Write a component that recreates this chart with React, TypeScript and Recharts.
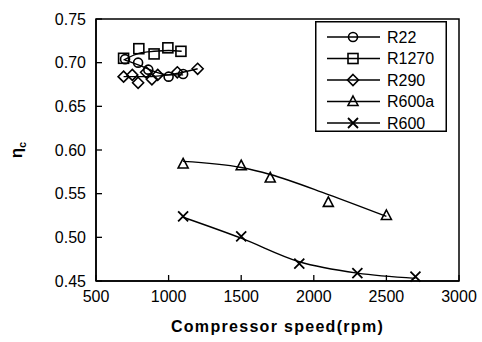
import React from "react";
import {
  ComposedChart, Line, Scatter, XAxis, YAxis, ReferenceArea, Label,
} from "recharts";

// measured points (speed rpm, isentropic efficiency)
const r22Speed = [700, 790, 860, 1000, 1100];
const r22Eta = [0.704, 0.7, 0.692, 0.684, 0.687];
const r1270Speed = [690, 795, 900, 995, 1085];
const r1270Eta = [0.705, 0.716, 0.71, 0.717, 0.713];
const r290Speed = [690, 750, 790, 845, 885, 925, 1060, 1200];
const r290Eta = [0.684, 0.686, 0.677, 0.689, 0.681, 0.686, 0.689, 0.693];
const r600aSpeed = [1100, 1500, 1700, 2100, 2500];
const r600aEta = [0.584, 0.582, 0.568, 0.54, 0.525];
const r600Speed = [1100, 1500, 1900, 2300, 2700];
const r600Eta = [0.524, 0.501, 0.47, 0.459, 0.455];

// fitted curves
const r22FitSpeed = [700, 800, 900, 1000, 1100];
const r22FitEta = [0.703, 0.697, 0.69, 0.686, 0.686];
const r1270FitSpeed = [690, 800, 900, 1000, 1090];
const r1270FitEta = [0.703, 0.711, 0.713, 0.714, 0.713];
const r290FitSpeed = [690, 850, 1000, 1200];
const r290FitEta = [0.684, 0.684, 0.686, 0.693];
const r600aFitSpeed = [1100, 1500, 1700, 2100, 2500];
const r600aFitEta = [0.587, 0.58, 0.572, 0.549, 0.524];
const r600FitSpeed = [1100, 1500, 1900, 2300, 2700];
const r600FitEta = [0.523, 0.499, 0.472, 0.459, 0.453];

const xTicks = [500, 1000, 1500, 2000, 2500, 3000];
const yTicks = [0.45, 0.5, 0.55, 0.6, 0.65, 0.7, 0.75];

const zip = (xs: number[], ys: number[]) => xs.map((x, i) => ({ x, y: ys[i] }));

const INK = "#000";
const FONT = "'Liberation Sans', Arial, sans-serif";

type Kind = "circle" | "square" | "diamond" | "triangle" | "cross";

function Marker({ cx, cy, kind }: { cx: number; cy: number; kind: Kind }) {
  const p = { fill: "none", stroke: INK, strokeWidth: 1.6 };
  if (kind === "circle") return <circle cx={cx} cy={cy} r={4.5} {...p} />;
  if (kind === "square") return <rect x={cx - 5} y={cy - 5} width={10} height={10} {...p} />;
  if (kind === "diamond")
    return <polygon points={`${cx},${cy - 5.5} ${cx + 5.5},${cy} ${cx},${cy + 5.5} ${cx - 5.5},${cy}`} {...p} />;
  if (kind === "triangle")
    return <polygon points={`${cx},${cy - 5.5} ${cx + 5},${cy + 4} ${cx - 5},${cy + 4}`} {...p} />;
  return (
    <path d={`M${cx - 5},${cy - 5}L${cx + 5},${cy + 5}M${cx + 5},${cy - 5}L${cx - 5},${cy + 5}`}
      stroke={INK} strokeWidth={1.8} />
  );
}

const SERIES: { name: string; kind: Kind; pts: { x: number; y: number }[]; fit: { x: number; y: number }[] }[] = [
  { name: "R22", kind: "circle", pts: zip(r22Speed, r22Eta), fit: zip(r22FitSpeed, r22FitEta) },
  { name: "R1270", kind: "square", pts: zip(r1270Speed, r1270Eta), fit: zip(r1270FitSpeed, r1270FitEta) },
  { name: "R290", kind: "diamond", pts: zip(r290Speed, r290Eta), fit: zip(r290FitSpeed, r290FitEta) },
  { name: "R600a", kind: "triangle", pts: zip(r600aSpeed, r600aEta), fit: zip(r600aFitSpeed, r600aFitEta) },
  { name: "R600", kind: "cross", pts: zip(r600Speed, r600Eta), fit: zip(r600FitSpeed, r600FitEta) },
];

// drawn as an overlay so the chart keeps its full plot height
function LegendBox() {
  return (
    <svg width={132} height={111} style={{ position: "absolute", left: 315, top: 21 }}>
      <rect x={0.75} y={0.75} width={130.5} height={109.5} fill="#fff" stroke={INK} strokeWidth={1.5} />
      {SERIES.map((s, i) => {
        const y = 16 + i * 21.5;
        return (
          <g key={s.name}>
            <line x1={12} x2={65} y1={y} y2={y} stroke={INK} strokeWidth={1.3} />
            <Marker cx={38} cy={y} kind={s.kind} />
            <text x={72} y={y + 5.5} fontSize={16} fontFamily={FONT} fill={INK}>{s.name}</text>
          </g>
        );
      })}
    </svg>
  );
}

function YTitle({ viewBox }: any) {
  const cx = 22;
  const cy = viewBox ? viewBox.y + viewBox.height / 2 : 155;
  return (
    <text x={cx} y={cy} transform={`rotate(-90 ${cx} ${cy})`} textAnchor="middle"
      fontSize={17} fontWeight="bold" fontFamily={FONT} fill={INK}>
      η<tspan fontSize={11} dy={4}>c</tspan>
    </text>
  );
}

export default function App() {
  const tick = { fill: INK, fontSize: 16, fontFamily: FONT };
  return (
    <div style={{ position: "absolute", left: 0, top: 0, width: 482, height: 342, background: "#fff" }}>
      <ComposedChart width={482} height={342} margin={{ top: 19, right: 23, left: 0, bottom: 0 }}>
        <XAxis type="number" dataKey="x" domain={[500, 3000]} ticks={xTicks}
          tickSize={-6} tickMargin={16} tick={tick} height={61}
          axisLine={{ stroke: INK, strokeWidth: 1.5 }} tickLine={{ stroke: INK, strokeWidth: 1.3 }}>
          <Label value="Compressor  speed(rpm)" position="insideBottom" offset={10}
            style={{ fontSize: 16, fontWeight: "bold", fontFamily: FONT, fill: INK, letterSpacing: 1.3, whiteSpace: "pre" }} />
        </XAxis>
        <YAxis type="number" dataKey="y" domain={[0.45, 0.75]} ticks={yTicks} width={96}
          tickFormatter={(v: number) => v.toFixed(2)}
          tickSize={-6} tickMargin={16} tick={tick}
          axisLine={{ stroke: INK, strokeWidth: 1.5 }} tickLine={{ stroke: INK, strokeWidth: 1.3 }}>
          <Label content={<YTitle />} />
        </YAxis>
        <ReferenceArea x1={500} x2={3000} y1={0.45} y2={0.75} fill="none" stroke={INK} strokeWidth={1.5} />
        {SERIES.map((s) => (
          <Line key={s.name + "-fit"} data={s.fit} dataKey="y" type="monotone" stroke={INK}
            strokeWidth={1.4} dot={false} activeDot={false} isAnimationActive={false} legendType="none" />
        ))}
        {SERIES.map((s) => (
          <Scatter key={s.name} name={s.name} data={s.pts} dataKey="y" isAnimationActive={false}
            shape={(props: any) => <Marker cx={props.cx} cy={props.cy} kind={s.kind} />} />
        ))}
      </ComposedChart>
      <LegendBox />
    </div>
  );
}
